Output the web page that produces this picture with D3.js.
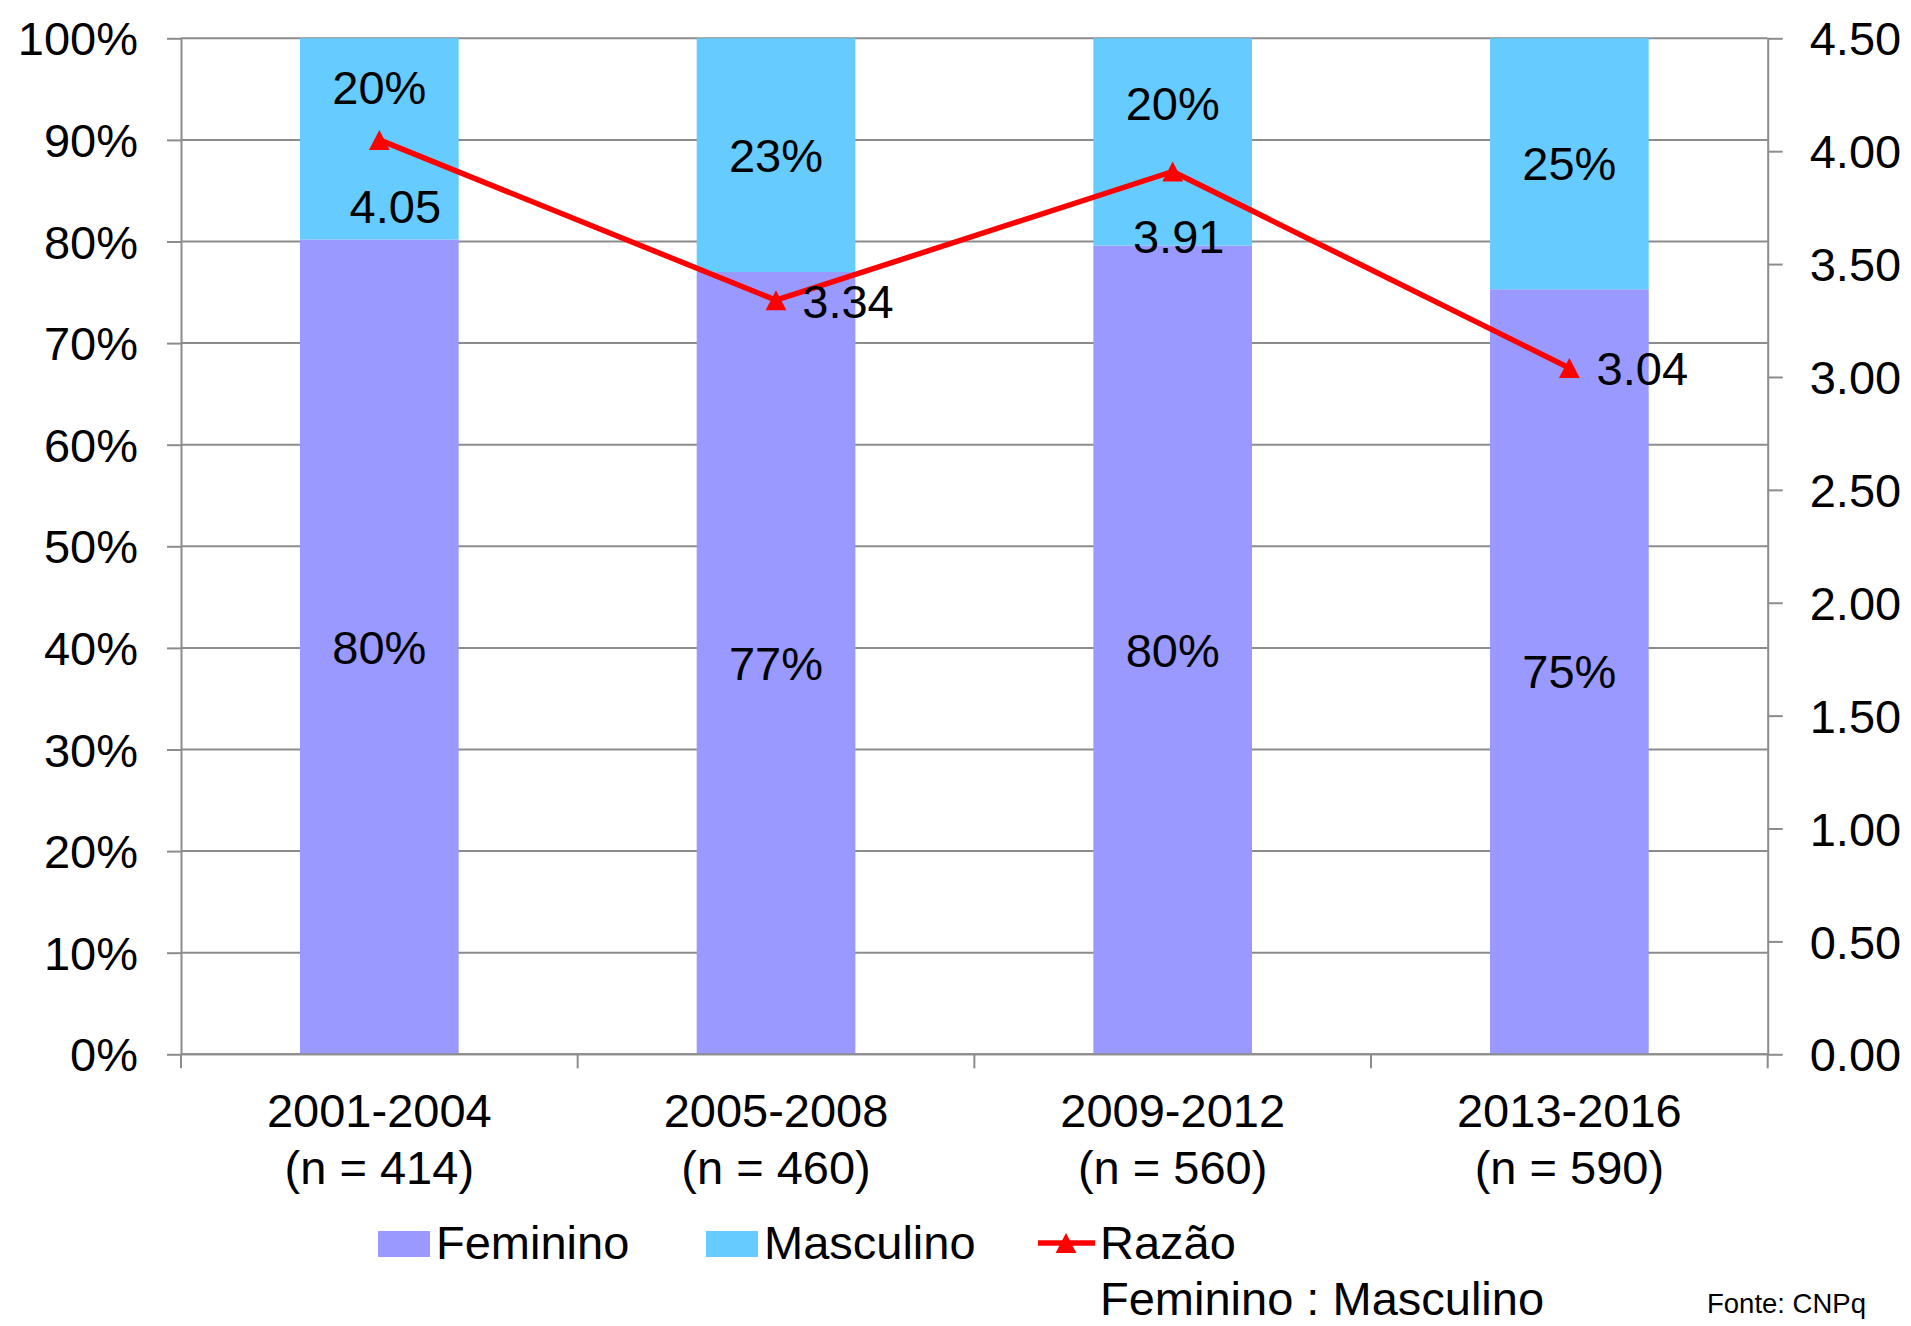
<!DOCTYPE html>
<html>
<head>
<meta charset="utf-8">
<script src="https://cdn.jsdelivr.net/npm/d3@7"></script>
<style>
  body { margin: 0; background: #fff; }
  svg { display: block; }
  text { font-family: "Liberation Sans", Arial, sans-serif; fill: #000; }
</style>
</head>
<body>
<svg id="chart" width="1911" height="1326"></svg>
<script>
// ---- Data -------------------------------------------------------------
const periods = ["2001-2004", "2005-2008", "2009-2012", "2013-2016"];
const sampleSizes = [414, 460, 560, 590];
const femininoShare = [0.802, 0.770, 0.796, 0.753];
const masculinoShare = [0.198, 0.230, 0.204, 0.247];
const razao = [4.05, 3.34, 3.91, 3.04];
const pctTicks = [0, 0.1, 0.2, 0.3, 0.4, 0.5, 0.6, 0.7, 0.8, 0.9, 1.0];
const ratioTicks = [0, 0.5, 1.0, 1.5, 2.0, 2.5, 3.0, 3.5, 4.0, 4.5];
const seriesNames = ["Feminino", "Masculino"];
const ratioName = ["Razão", "Feminino : Masculino"];
const sourceNote = "Fonte: CNPq";

// ---- Layout -----------------------------------------------------------
const plot = { left: 181, right: 1767.7, top: 38.3, bottom: 1054.3 };
const colors = { Feminino: "#9999FF", Masculino: "#66CCFF", ratio: "#FF0000", axis: "#8C8C8C" };
const fontSize = 47;
// hand-placed label nudges (px) so labels clear the ratio line
const masculinoLabelNudge = [-52, 0, -39, 0];
const ratioLabelOffset = [[16, 66], [72, 1], [6, 65], [73, 0]];

const svg = d3.select("#chart");

const x = d3.scaleBand()
  .domain(periods)
  .range([plot.left, plot.right])
  .paddingInner(0.6)
  .paddingOuter(0.3);

const yPct = d3.scaleLinear().domain([0, 1]).range([plot.bottom, plot.top]);
const yRatio = d3.scaleLinear().domain([0, 4.5]).range([plot.bottom, plot.top]);

const cx = p => x(p) + x.bandwidth() / 2;

// ---- Gridlines ----------------------------------------------------------
svg.append("g")
  .selectAll("line")
  .data(pctTicks)
  .join("line")
  .attr("x1", plot.left)
  .attr("x2", plot.right)
  .attr("y1", d => yPct(d))
  .attr("y2", d => yPct(d))
  .attr("stroke", colors.axis)
  .attr("stroke-width", 2);

// ---- Stacked bars -------------------------------------------------------
const table = periods.map((p, i) => ({
  period: p,
  Feminino: femininoShare[i],
  Masculino: masculinoShare[i]
}));
const stacked = d3.stack().keys(seriesNames)(table);

const layers = svg.append("g")
  .selectAll("g")
  .data(stacked)
  .join("g")
  .attr("fill", d => colors[d.key]);

layers.selectAll("rect")
  .data(d => d)
  .join("rect")
  .attr("x", d => x(d.data.period))
  .attr("width", x.bandwidth())
  .attr("y", d => yPct(d[1]))
  .attr("height", d => yPct(d[0]) - yPct(d[1]));

// segment labels
const pctFmt = d3.format(".0%");
layers.each(function (layer) {
  d3.select(this).selectAll("text")
    .data(layer)
    .join("text")
    .attr("x", d => cx(d.data.period))
    .attr("y", (d, i) => (yPct(d[0]) + yPct(d[1])) / 2 + (layer.key === "Masculino" ? masculinoLabelNudge[i] : 0))
    .attr("dy", "0.355em")
    .attr("text-anchor", "middle")
    .attr("font-size", fontSize)
    .text(d => pctFmt(d[1] - d[0]));
});

// ---- Axes ----------------------------------------------------------------
const styleAxis = g => {
  g.select(".domain").attr("stroke", colors.axis).attr("stroke-width", 2);
  g.selectAll(".tick line").attr("stroke", colors.axis).attr("stroke-width", 2);
  g.selectAll(".tick text")
    .attr("font-size", fontSize)
    .attr("font-family", "Liberation Sans, Arial, sans-serif")
    .attr("fill", "#000")
    .attr("dy", "0.355em");
};

svg.append("g")
  .attr("transform", `translate(${plot.left},0)`)
  .call(d3.axisLeft(yPct).tickValues(pctTicks).tickFormat(d3.format(".0%"))
    .tickSize(14).tickSizeOuter(0).tickPadding(29))
  .call(styleAxis);

svg.append("g")
  .attr("transform", `translate(${plot.right},0)`)
  .call(d3.axisRight(yRatio).tickValues(ratioTicks).tickFormat(d3.format(".2f"))
    .tickSize(15).tickSizeOuter(0).tickPadding(27))
  .call(styleAxis);

// category axis: ticks sit on band boundaries
const gap = x.step() - x.bandwidth();
const boundaries = periods.map(p => x(p) - gap / 2)
  .concat([x(periods[periods.length - 1]) + x.bandwidth() + gap / 2]);

const xAxis = svg.append("g");
xAxis.append("line")
  .attr("x1", plot.left).attr("x2", plot.right)
  .attr("y1", plot.bottom).attr("y2", plot.bottom)
  .attr("stroke", colors.axis).attr("stroke-width", 2);
xAxis.selectAll("line.tick")
  .data(boundaries)
  .join("line")
  .attr("class", "tick")
  .attr("x1", d => d).attr("x2", d => d)
  .attr("y1", plot.bottom).attr("y2", plot.bottom + 14)
  .attr("stroke", colors.axis).attr("stroke-width", 2);

const catLabels = xAxis.selectAll("text")
  .data(periods)
  .join("text")
  .attr("text-anchor", "middle")
  .attr("font-size", fontSize);
catLabels.append("tspan")
  .attr("x", d => cx(d))
  .attr("y", plot.bottom + 73)
  .text(d => d);
catLabels.append("tspan")
  .attr("x", d => cx(d))
  .attr("y", plot.bottom + 130)
  .text((d, i) => `(n = ${sampleSizes[i]})`);

// ---- Ratio line ------------------------------------------------------------
const triangle = {
  draw(ctx, size) {
    const h = Math.sqrt(size);
    ctx.moveTo(0, -h / 2);
    ctx.lineTo(h * 0.52, h / 2);
    ctx.lineTo(-h * 0.52, h / 2);
    ctx.closePath();
  }
};

const ratioPts = periods.map((p, i) => [cx(p), yRatio(razao[i])]);

svg.append("path")
  .datum(ratioPts)
  .attr("fill", "none")
  .attr("stroke", colors.ratio)
  .attr("stroke-width", 5.5)
  .attr("stroke-linejoin", "round")
  .attr("d", d3.line());

svg.append("g")
  .selectAll("path")
  .data(ratioPts)
  .join("path")
  .attr("transform", d => `translate(${d[0]},${d[1]})`)
  .attr("fill", colors.ratio)
  .attr("d", d3.symbol(triangle, 400));

svg.append("g")
  .selectAll("text")
  .data(razao)
  .join("text")
  .attr("x", (d, i) => ratioPts[i][0] + ratioLabelOffset[i][0])
  .attr("y", (d, i) => ratioPts[i][1] + ratioLabelOffset[i][1])
  .attr("dy", "0.355em")
  .attr("text-anchor", "middle")
  .attr("font-size", fontSize)
  .text(d => d3.format(".2f")(d));

// ---- Legend ------------------------------------------------------------------
const legend = svg.append("g");
const swatchX = [378, 706];
seriesNames.forEach((name, i) => {
  legend.append("rect")
    .attr("x", swatchX[i]).attr("y", 1231)
    .attr("width", 52).attr("height", 26)
    .attr("fill", colors[name]);
  legend.append("text")
    .attr("x", swatchX[i] + 58).attr("y", 1259)
    .attr("font-size", fontSize)
    .text(name);
});
legend.append("line")
  .attr("x1", 1038).attr("x2", 1095)
  .attr("y1", 1243).attr("y2", 1243)
  .attr("stroke", colors.ratio).attr("stroke-width", 5.5);
legend.append("path")
  .attr("transform", "translate(1066,1243)")
  .attr("fill", colors.ratio)
  .attr("d", d3.symbol(triangle, 400));
legend.append("text")
  .attr("font-size", fontSize)
  .selectAll("tspan")
  .data(ratioName)
  .join("tspan")
  .attr("x", 1100)
  .attr("y", (d, i) => 1259 + i * 56)
  .text(d => d);

svg.append("text")
  .attr("x", 1707).attr("y", 1313)
  .attr("font-size", 27.5)
  .text(sourceNote);
</script>
</body>
</html>
